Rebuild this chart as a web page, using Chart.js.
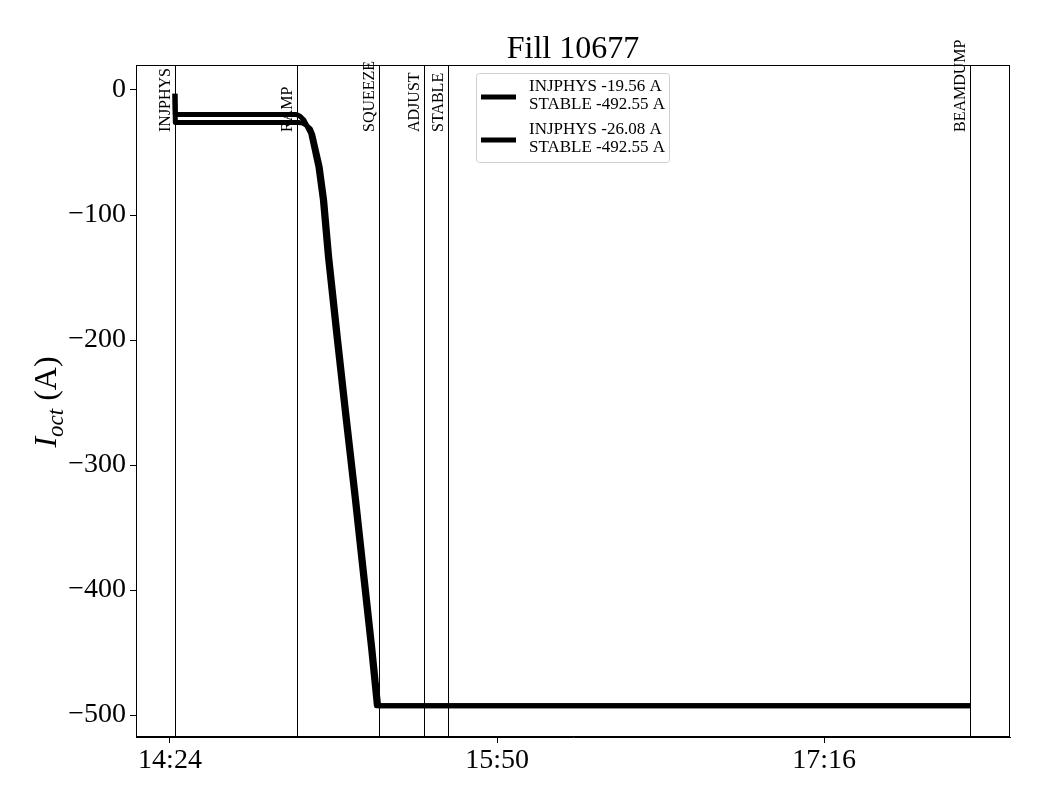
<!DOCTYPE html>
<html>
<head>
<meta charset="utf-8">
<script src="https://cdn.jsdelivr.net/npm/chart.js@4.4.1/dist/chart.umd.min.js"></script>
<style>
  html, body { margin: 0; padding: 0; background: #fff; }
  #wrap { width: 1040px; height: 800px; position: relative; }
</style>
</head>
<body>
<div id="wrap"><canvas id="c" width="1040" height="800"></canvas></div>
<script>
// ---- data (time in minutes since midnight, current in A) ----
const s1Times  = [865.3, 865.4, 897.0, 897.36, 898.2, 899.2, 900.97, 902.89, 904.07, 905.39, 907.75, 909.99, 912.49, 914.72, 916.70, 918.27, 1074.4];
const s1Values = [-3, -19.56, -19.56, -19.7, -21.0, -24.0, -34.4, -61.4, -88, -133.4, -200, -261.4, -328, -390.4, -445.4, -492.55, -492.55];
const s2Times  = [865.3, 865.4, 897.8, 898.9, 899.8, 900.9, 901.57, 903.49, 904.67, 905.99, 908.35, 910.59, 913.09, 915.32, 917.30, 918.87, 1074.4];
const s2Values = [-3, -26.08, -26.08, -26.5, -28.0, -31.0, -36.0, -61.4, -88, -133.4, -200, -261.4, -328, -390.4, -445.4, -492.55, -492.55];
const seriesLabels = [["INJPHYS -19.56 A", "STABLE -492.55 A"], ["INJPHYS -26.08 A", "STABLE -492.55 A"]];
const eventNames = ["INJPHYS", "RAMP", "SQUEEZE", "ADJUST", "STABLE", "BEAMDUMP"];
const eventTimes = [865.3, 897.4, 919.0, 930.8, 937.1, 1074.4];
const xTickValues = [864, 950, 1036];
const xTickLabels = ["14:24", "15:50", "17:16"];
const yTickValues = [0, -100, -200, -300, -400, -500];
const chartTitle = "Fill 10677";

const serif = "'Liberation Serif', 'DejaVu Serif', serif";

const toPts = (t, v) => t.map((x, i) => ({x: x, y: v[i]}));

const overlay = {
  id: 'overlay',
  afterDatasetsDraw(chart) {
    const ctx = chart.ctx;
    const a = chart.chartArea;
    const xs = chart.scales.x;
    ctx.save();
    // frame
    ctx.strokeStyle = '#000';
    ctx.lineWidth = 1;
    ctx.strokeRect(a.left + 0.5, a.top + 0.5, a.right - a.left - 1, a.bottom - a.top - 1);
    // event lines and labels
    ctx.font = "16px " + serif;
    ctx.fillStyle = '#000';
    eventTimes.forEach((t, i) => {
      const px = Math.round(xs.getPixelForValue(t)) + 0.5;
      ctx.beginPath();
      ctx.moveTo(px, a.top);
      ctx.lineTo(px, a.bottom);
      ctx.stroke();
      ctx.save();
      ctx.translate(px - 2, 132);
      ctx.rotate(-Math.PI / 2);
      ctx.textAlign = 'left';
      ctx.textBaseline = 'bottom';
      ctx.fillText(eventNames[i], 0, 0);
      ctx.restore();
    });
    // title
    ctx.font = "32px " + serif;
    ctx.textAlign = 'center';
    ctx.textBaseline = 'alphabetic';
    ctx.fillText(chartTitle, (a.left + a.right) / 2, 58);
    // y-axis label
    ctx.save();
    ctx.translate(56, 402);
    ctx.rotate(-Math.PI / 2);
    const f1 = "italic 32px " + serif, f2 = "italic 23px " + serif, f3 = "32px " + serif;
    ctx.font = f1; const w1 = ctx.measureText("I").width;
    ctx.font = f2; const w2 = ctx.measureText("oct").width;
    ctx.font = f3; const w3 = ctx.measureText(" (A)").width;
    let x0 = -(w1 + w2 + w3) / 2;
    ctx.textAlign = 'left';
    ctx.font = f1; ctx.fillText("I", x0, 0); x0 += w1;
    ctx.font = f2; ctx.fillText("oct", x0, 7); x0 += w2;
    ctx.font = f3; ctx.fillText(" (A)", x0, 0);
    ctx.restore();
    // legend
    const lx = 476, ly = 73, lw = 193, lh = 89;
    ctx.fillStyle = 'rgba(255,255,255,0.85)';
    ctx.strokeStyle = '#d0d0d0';
    ctx.lineWidth = 1;
    ctx.beginPath();
    if (ctx.roundRect) ctx.roundRect(lx + 0.5, ly + 0.5, lw, lh, 3); else ctx.rect(lx + 0.5, ly + 0.5, lw, lh);
    ctx.fill();
    ctx.stroke();
    ctx.font = "17px " + serif;
    ctx.fillStyle = '#000';
    ctx.textAlign = 'left';
    ctx.textBaseline = 'middle';
    seriesLabels.forEach((lines, i) => {
      const cy = 97 + i * 43;
      ctx.strokeStyle = '#000';
      ctx.lineWidth = 5;
      ctx.beginPath();
      ctx.moveTo(481, cy);
      ctx.lineTo(516, cy);
      ctx.stroke();
      ctx.fillText(lines[0], 529, cy - 10);
      ctx.fillText(lines[1], 529, cy + 8);
    });
    ctx.restore();
  }
};

new Chart(document.getElementById('c'), {
  type: 'line',
  data: {
    datasets: [
      { data: toPts(s1Times, s1Values), borderColor: '#000', borderWidth: 5, pointRadius: 0, tension: 0, borderJoinStyle: 'round', fill: false },
      { data: toPts(s2Times, s2Values), borderColor: '#000', borderWidth: 5, pointRadius: 0, tension: 0, borderJoinStyle: 'round', fill: false }
    ]
  },
  options: {
    responsive: false,
    animation: false,
    devicePixelRatio: 1,
    layout: { padding: { left: 0, top: 65, right: 30, bottom: 0 } },
    plugins: { legend: { display: false }, title: { display: false }, tooltip: { enabled: false } },
    scales: {
      x: {
        type: 'linear',
        min: 855.06, max: 1084.9,
        afterFit(s) { s.height = 63; },
        afterBuildTicks(s) { s.ticks = xTickValues.map(v => ({value: v})); },
        ticks: {
          color: '#000', font: { family: serif, size: 28 }, padding: 1, maxRotation: 0,
          callback(v) { const i = xTickValues.indexOf(v); return i >= 0 ? xTickLabels[i] : ''; }
        },
        grid: { display: true, drawOnChartArea: false, drawTicks: true, tickLength: 6, color: '#000' },
        border: { display: true, color: '#000', width: 1 }
      },
      y: {
        type: 'linear',
        min: -517.6, max: 20,
        afterFit(s) { s.width = 136; },
        afterBuildTicks(s) { s.ticks = yTickValues.map(v => ({value: v})); },
        ticks: {
          color: '#000', font: { family: serif, size: 28 }, padding: 4,
          callback(v) { return v < 0 ? '\u2212' + Math.abs(v) : String(v); }
        },
        grid: { display: true, drawOnChartArea: false, drawTicks: true, tickLength: 6, color: '#000' },
        border: { display: true, color: '#000', width: 1 }
      }
    }
  },
  plugins: [overlay]
});
</script>
</body>
</html>
